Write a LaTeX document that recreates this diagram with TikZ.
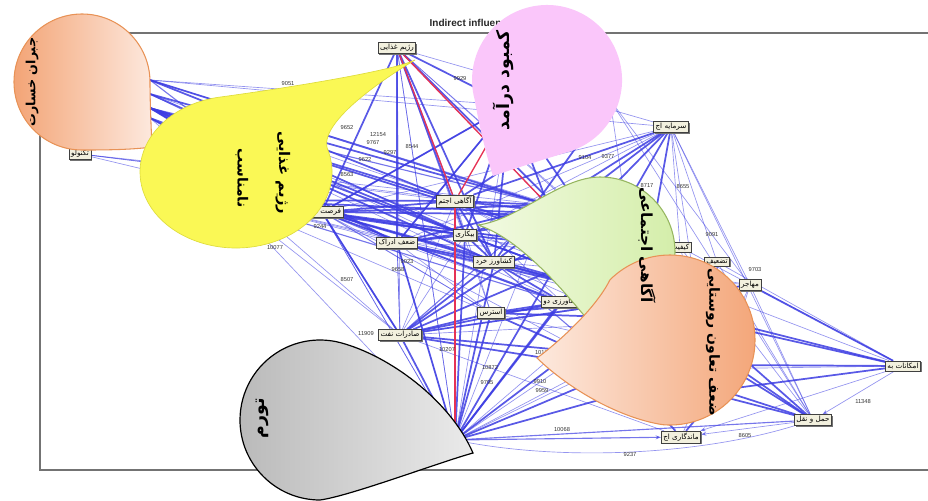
\documentclass[tikz,border=0pt]{standalone}
\usepackage{fontspec}
\setsansfont{Liberation Sans}
\newfontfamily\fa[Script=Arabic]{DejaVu Sans}
\TeXXeTstate=1
\usetikzlibrary{calc,shadows,arrows.meta}
\definecolor{bl}{RGB}{60,60,226}
\definecolor{rd}{RGB}{230,50,85}
\definecolor{boxfill}{RGB}{242,240,222}
\definecolor{orA}{RGB}{243,164,118}
\definecolor{orB}{RGB}{253,233,222}
\definecolor{orEdge}{RGB}{232,146,86}
\definecolor{yel}{RGB}{250,248,85}
\definecolor{yelEdge}{RGB}{222,220,60}
\definecolor{pnk}{RGB}{250,198,250}
\definecolor{grA}{RGB}{242,250,226}
\definecolor{grB}{RGB}{212,238,170}
\definecolor{grEdge}{RGB}{150,182,96}
\newcommand\fatxt[1]{\beginR #1\endR}
\newcommand\dropfont[1]{\fa\bfseries\fontsize{#1}{#1}\selectfont}
\pgfdeclarelayer{bg}
\pgfsetlayers{bg,main}
\tikzset{
  nb/.style={draw=black!75, fill=boxfill, line width=0.5pt, inner xsep=1.5pt, inner ysep=1.3pt,
    font=\fa\fontsize{5.4}{6}\selectfont,
    drop shadow={shadow xshift=0.9pt, shadow yshift=-0.9pt, fill=black!55, opacity=1}},
  ek/.style={draw=bl, line width=1.3pt, opacity=0.85},
  em/.style={draw=bl, line width=0.85pt, opacity=0.7},
  et/.style={draw=bl, line width=0.5pt, opacity=0.55},
  er/.style={draw=rd, line width=1pt},
  num/.style={font=\sffamily\fontsize{4.3}{5}\selectfont, text=black!80, inner sep=0pt},
  dtext/.style={text=black, inner sep=0pt},
  arr/.style={-{Stealth[length=4pt,width=3pt]}}
}
\begin{document}
\begin{tikzpicture}[x=0.75pt,y=-0.75pt]
\useasboundingbox (0,0) rectangle (928,500);
% frame and title
\draw[line width=0.9pt, black!55] (940,33) -- (40,33) -- (40,470) -- (940,470);
\node[anchor=base west, font=\sffamily\bfseries\fontsize{7.5}{9}\selectfont, text=black!85] (title) at (425,26) {Indirect influence graph};
% hidden hubs
\coordinate (hS1) at (150,80);
\coordinate (hS2) at (150,108);
\coordinate (hS3) at (150,94);
\coordinate (hS4) at (150,118);
\coordinate (hY) at (228,200);
\coordinate (hX) at (510,105);
\coordinate (hX2) at (610,100);
\coordinate (hW) at (548,205);
\coordinate (hZ) at (585,215);
\coordinate (hU) at (600,250);
\coordinate (hT) at (640,300);
\coordinate (hK) at (455,440);
\coordinate (hV1) at (700,320);
\coordinate (hV2) at (725,365);
\coordinate (hV3) at (620,370);
\coordinate (hV4) at (720,390);
% labelled nodes
\node[nb] (nA) at (397,48) {\fatxt{رژیم غذایی}};
\node[nb] (nB) at (80,154) {\fatxt{تکنولو}};
\node[nb] (nC) at (671,127) {\fatxt{سرمایه اج}};
\node[nb] (nD) at (455,201) {\fatxt{آگاهی اجتم}};
\node[nb] (nE) at (322,212) {\fatxt{فرصت اشت}};
\node[nb] (nF) at (397,243) {\fatxt{ضعف ادراک}};
\node[nb] (nG) at (465,235) {\fatxt{بیکاری}};
\node[nb] (nH) at (494,262) {\fatxt{کشاورز خرد}};
\node[nb] (nI) at (491,313) {\fatxt{استرس}};
\node[nb] (nJ) at (400,335) {\fatxt{صادرات نفت}};
\node[nb] (nL) at (681,437) {\fatxt{ماندگاری اج}};
\node[nb] (nM) at (813,420) {\fatxt{حمل و نقل}};
\node[nb] (nN) at (903,366) {\fatxt{امکانات به}};
\node[nb] (nO) at (750,285) {\fatxt{مهاجر}};
\node[nb] (nP) at (717,262) {\fatxt{تضعیف}};
\node[nb] (nQ) at (680,247) {\fatxt{کیفیت}};
\node[nb] (nR) at (562,302) {\fatxt{کشاورزی دو}};
% connectors
\begin{pgfonlayer}{bg}
\foreach \a/\b in {hS2/nE,hS2/nD,hS2/nG,hS2/nH,hS1/nD,hS1/hW,hS2/hU,hS2/nF,hS3/hZ,hS4/hT,hS3/nG,hS4/nE,
  nA/nE,nA/nF,nA/nG,nA/nH,nA/hU,nA/hX,hY/nD,hY/hZ,hY/nG,
  nE/nD,nE/nG,nE/nH,nE/hW,nE/hU,nE/nR,nE/nJ,nE/hZ,nE/hT,
  nF/nG,nF/nH,nF/hW,nF/hZ,nF/hT,nD/hW,nD/hU,nD/nH,nD/hZ,
  hX/nE,hX/nG,hX/nH,hX/nF,hX/hW,hX2/nD,hX2/nH,hX/hZ,
  nC/hW,nC/hU,nC/nD,nC/nH,nC/hZ,nC/hT,
  hK/nJ,hK/nF,hK/nG,hK/nH,hK/nI,hK/nR,hK/hU,hK/hV3,hK/hV2,hK/hT,hK/hZ,
  nJ/nI,nJ/nR,nJ/hV3,nJ/hV2,nJ/nH,nJ/hU,nJ/hT,nJ/hZ,
  nI/hV3,nI/nR,nI/hV1,nI/hT,nH/hU,nH/nR,nH/hV1,nH/hT,nG/hW,nG/hU,nG/nH,nG/hT,
  nN/hV1,nN/hV2,nN/nO,nN/hV4,nN/hT,nM/hV1,nM/hV2,nM/hV4,nM/hV3,nM/hT,nO/hV1,nL/hV3,nL/hV4,nO/hT}
  \draw[ek] (\a) -- (\b);
\foreach \a/\b in {hS1/nC,hS1/hX,hS2/nI,hS2/hV1,hS2/nR,hS3/nH,hS4/nJ,hS3/hU,hS1/hZ,
  nB/nE,nB/nD,nB/hW,nB/hZ,
  nA/nJ,nA/hK,nA/nI,nA/nC,nA/hV1,nA/hZ,nA/hT,
  hY/nJ,hY/hK,hY/nF,hY/nH,hY/hU,hY/nI,hY/hT,
  nE/hV1,nE/hK,nE/nI,nE/nO,nE/hV3,nE/hV2,
  nF/nJ,nF/hK,nF/nR,nF/hU,nF/hV1,nF/nI,
  nD/nI,nD/nR,nD/hV1,nD/hT,hX2/nM,hX2/nO,hX2/hT,
  nC/nG,nC/nE,nC/nQ,nC/nP,nC/nO,nC/nM,nC/hV1,nC/nF,
  hK/nE,hK/nD,hK/hW,hK/hV1,hK/nO,hK/nQ,hK/nP,hK/hX,hK/nA,
  nJ/nG,nJ/nO,nJ/hV1,nJ/nD,nJ/nL,nJ/nF,
  nI/nO,nI/hV2,nH/nO,nH/hV2,nR/hV2,nR/nO,
  nN/nQ,nN/nP,nN/hV3,nN/hU,nM/nO,nM/nP,nM/nQ,nO/nL,nO/hV2,nP/hV2,nQ/hV4}
  \draw[et] (\a) -- (\b);
\foreach \a/\b in {hS1/nE,hS2/hW,nE/nF,nA/nD,hY/nE,nJ/nE,hK/nM,nJ/hW,nH/hV3,hY/nR,hS4/nF,nE/hX,nF/hX}
  \draw[em] (\a) -- (\b);
\draw[em,arr] (hK) -- (nL);
\draw[et,arr] (nN) -- (nM);
\draw[et,arr] (nM) -- (nL);
\draw[et,arr] (nN) -- (nL);
\draw[et] (hK) .. controls (560,462) and (700,455) .. (nM);
\draw[er] (nA) -- (nD);
\draw[er] (nA) -- (hW);
\draw[er] (hX) -- (nD);
\draw[er] (nD) -- (hK);
\end{pgfonlayer}
% numbers
\foreach \t/\x/\y in {9051/288/84,9929/460/79,12154/378/135,9767/373/143,9652/347/128,
  9297/390/153,8544/412/147,9622/365/160,8563/347/175,10077/275/248,9244/320/227,
  8507/347/280,9023/407/262,9658/398/270,11909/366/334,10068/562/430,9237/630/455,
  11348/863/402,8605/745/436,9703/755/270,9091/712/235,8717/647/186,8655/683/187,
  9104/585/158,9377/608/157,10207/447/350,10872/490/368,9795/487/383,9910/540/382,
  9959/542/391,10179/543/353}
  \node[num] at (\x,\y) {\t};
% teardrop callouts
\path[draw=orEdge, line width=0.8pt, left color=orA, right color=orB]
  (152,147) .. controls (130,150) and (100,150) .. (82,150)
  arc[start angle=90, end angle=360, radius=68]
  .. controls (150,100) and (151,125) .. (152,147) -- cycle;
\path[draw=yelEdge, line width=0.5pt, fill=yel]
  (415,60) .. controls (405,66) and (318,118) .. (327.3,148.5)
  arc[start angle=-18, end angle=262, x radius=96, y radius=76]
  .. controls (272,90) and (390,72) .. (415,60) -- cycle;
\path[fill=pnk]
  (493,176) .. controls (486,155) and (478,120) .. (474.6,99.4)
  arc[start angle=165, end angle=435, radius=75]
  .. controls (542,160) and (510,170) .. (493,176) -- cycle;
\path[draw=grEdge, line width=0.8pt, left color=grA, right color=grB]
  (478,225) .. controls (518,220) and (560,177) .. (600,177)
  arc[start angle=270, end angle=455, radius=75]
  .. controls (575,305) and (525,240) .. (478,225) -- cycle;
\path[draw=orEdge, line width=0.8pt, left color=orB, right color=orA]
  (537,358) .. controls (555,345) and (595,310) .. (609.9,279.9)
  arc[start angle=225, end angle=455, radius=85]
  .. controls (620,418) and (570,390) .. (537,358) -- cycle;
\path[draw=black, line width=0.9pt, left color=black!27, right color=black!8]
  (473,453) .. controls (440,462) and (350,496) .. (320,500)
  arc[start angle=90, end angle=285, radius=80]
  .. controls (389,355.6) and (450,400) .. (473,453) -- cycle;
% callout texts
\node[dtext, font=\dropfont{9.5}, rotate=90] (t1) at (32,82) {\fatxt{جبران خسارت}};
\node[dtext, font=\dropfont{11}, rotate=-90] (t2) at (283,173) {\fatxt{رژیم غذایی}};
\node[dtext, font=\dropfont{10.5}, rotate=-90] (t3) at (242,178) {\fatxt{نامناسب}};
\node[dtext, font=\dropfont{13}, rotate=90] (t4) at (503,80) {\fatxt{کمبود درآمد}};
\node[dtext, font=\dropfont{11.5}, rotate=-90] (t5) at (647,245) {\fatxt{آگاهی اجتماعی}};
\node[dtext, font=\dropfont{10.5}, rotate=-90] (t6) at (713,342) {\fatxt{ضعف تعاون روستایی}};
\node[dtext, font=\dropfont{13}, rotate=90] (t7) at (262,418) {\fatxt{تورم}};
\end{tikzpicture}
\end{document}
